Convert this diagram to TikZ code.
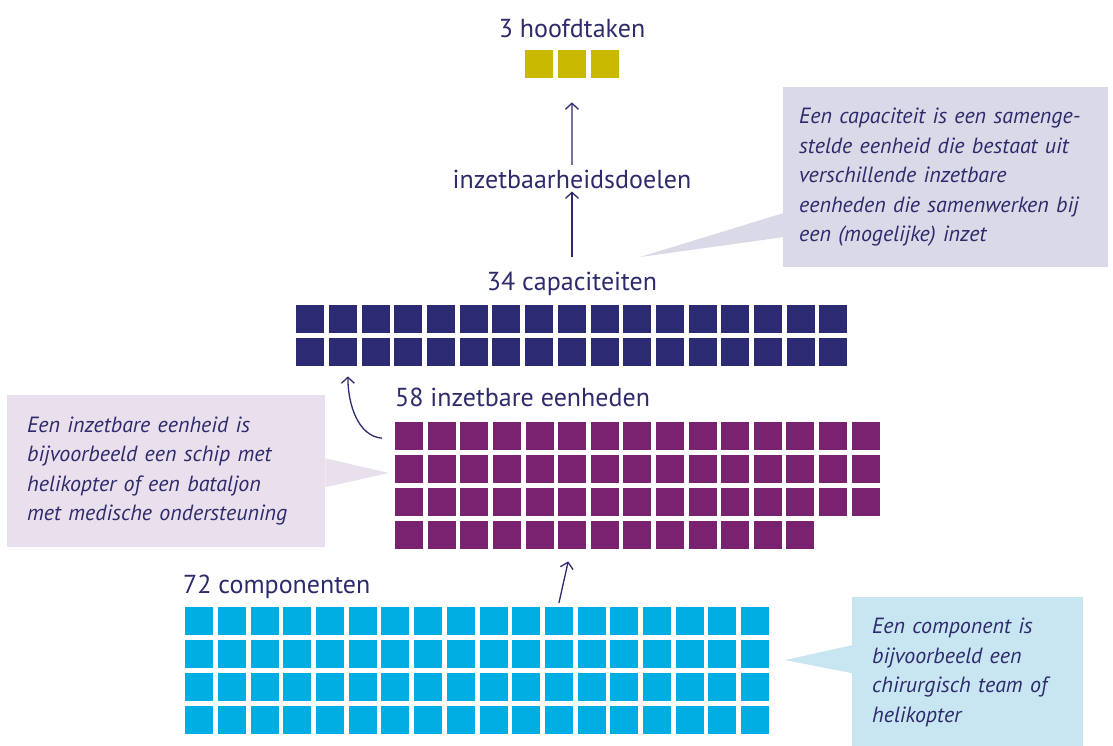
\documentclass[tikz,border=0pt]{standalone}
\usepackage{fontspec}
\setmainfont{PT Sans}
\usepackage{xcolor}
\usepackage{tikz}
\usetikzlibrary{positioning}
\usetikzlibrary{arrows.meta}
\definecolor{taakgeel}{RGB}{200,185,0}
\definecolor{capblauw}{RGB}{43,42,115}
\definecolor{eenheidpaars}{RGB}{120,34,112}
\definecolor{compcyaan}{RGB}{0,174,227}
\definecolor{tekst}{RGB}{45,43,107}
\definecolor{notegrijs}{RGB}{217,217,232}
\definecolor{notepaars}{RGB}{234,223,237}
\definecolor{notecyaan}{RGB}{200,229,242}
\tikzset{edge/.style = {-{Straight Barb[length=6pt,width=13pt]}, line width=1.3pt, draw=tekst}}

\begin{document}
\begin{tikzpicture}[x=1pt,y=-1pt,
    blok/.style={rectangle,minimum size=28pt,inner sep=0pt,anchor=north west},
    label node/.style={font=\fontsize{26}{30}\selectfont,text=tekst,inner sep=0pt},
    note node/.style={rectangle,inner xsep=20pt,inner ysep=0pt,align=left,text=tekst,
        font=\fontsize{22}{29.5}\selectfont\itshape,anchor=north west}]
\useasboundingbox (0,0) rectangle (1113,745);

% blokjes per niveau
\foreach \c in {0,1,2}
    \node[blok,fill=taakgeel] (taak-\c) at (525+32.7*\c,50) {};
\foreach \r in {0,1}
    \foreach \c in {0,...,16}
        \node[blok,fill=capblauw] (cap-\r-\c) at (296+32.7*\c,305+33*\r) {};
\foreach \r in {0,1,2}
    \foreach \c in {0,...,14}
        \node[blok,fill=eenheidpaars] (eh-\r-\c) at (395+32.6*\c,422+33*\r) {};
\foreach \c in {0,...,12}
    \node[blok,fill=eenheidpaars] (eh-3-\c) at (395+32.6*\c,521) {};
\foreach \r in {0,1,2,3}
    \foreach \c in {0,...,17}
        \node[blok,fill=compcyaan] (comp-\r-\c) at (185+32.7*\c,607+33*\r) {};

% teksten
\node[label node,anchor=base] (hoofdtaken) at (572,37) {3 hoofdtaken};
\node[label node,anchor=base] (doelen) at (572,188) {inzetbaarheidsdoelen};
\node[label node,anchor=base] (capaciteiten) at (572,290) {34 capaciteiten};
\node[label node,anchor=base west] (eenheden) at (395,406) {58 inzetbare eenheden};
\node[label node,anchor=base west] (componenten) at (183,593) {72 componenten};

% toelichtingen
\node[note node,fill=notegrijs,inner xsep=16pt,text width=293pt,minimum height=180pt] (capnote) at (783,87)
    {Een capaciteit is een samenge-\\stelde eenheid die bestaat uit\\verschillende inzetbare\\eenheden die samenwerken bij\\een (mogelijke) inzet};
\node[note node,fill=notepaars,text width=278pt,minimum height=152pt] (ehnote) at (7,395)
    {Een inzetbare eenheid is\\bijvoorbeeld een schip met\\helikopter of een bataljon\\met medische ondersteuning};
\node[note node,fill=notecyaan,text width=191pt,minimum height=150pt] (compnote) at (852,597)
    {Een component is\\bijvoorbeeld een\\chirurgisch team of\\helikopter};

\coordinate (captip) at (640,257);
\coordinate (ehtip) at (389,473);
\coordinate (comptip) at (785,660);
\fill[notegrijs] (captip) -- ([yshift=-36pt]capnote.west) -- ([yshift=-60pt]capnote.west) -- cycle;
\fill[notepaars] (ehtip) -- ([yshift=13pt]ehnote.east) -- ([yshift=-16pt]ehnote.east) -- cycle;
\fill[notecyaan] (comptip) -- ([yshift=27pt]compnote.west) -- ([yshift=-1pt]compnote.west) -- cycle;

% pijlen
\draw[edge,shorten <=14pt,shorten >=24pt] (doelen.center) -- (taak-1.south);
\draw[edge,shorten <=26pt,shorten >=3pt] (capaciteiten.center) -- (doelen.south);
\draw[edge] ([xshift=-13pt,yshift=-2pt]eh-0-0.west) .. controls +(-24,-2) and +(0,28) .. ([xshift=5pt,yshift=-10pt]cap-1-1.south);
\draw[edge] ([yshift=4pt]comp-0-11.north) -- ([xshift=-4pt,yshift=-12pt]eh-3-5.south);
\end{tikzpicture}
\end{document}
